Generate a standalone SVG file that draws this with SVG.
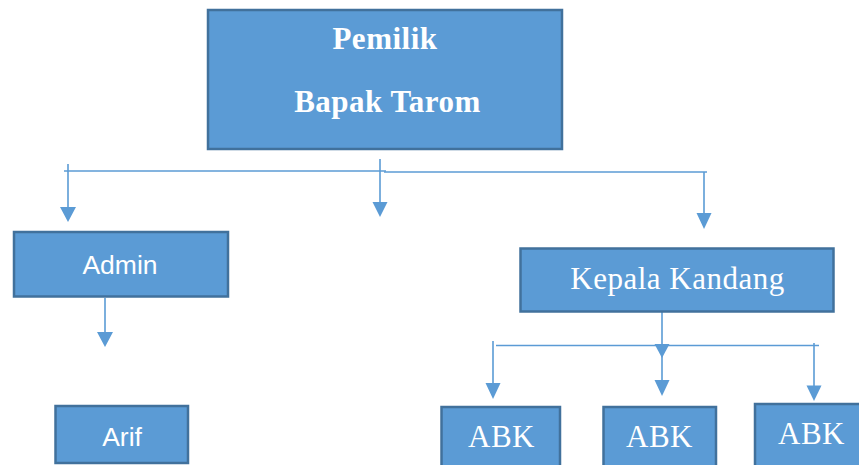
<svg xmlns="http://www.w3.org/2000/svg" width="859" height="465" viewBox="0 0 859 465">
<style>
.box{fill:#5B9BD5;stroke:#41719C;stroke-width:2.5}
.serif{font-family:"Liberation Serif","Times New Roman",serif;fill:#fff;text-anchor:middle;font-size:31px;letter-spacing:0.5px}
.sans{font-family:"Liberation Sans",Arial,sans-serif;fill:#fff;text-anchor:middle;font-size:26.5px}
.ln{stroke:#5B9BD5;fill:none;stroke-width:1.6}
.ah{fill:#5B9BD5}
</style>
<rect width="859" height="465" fill="#fff"/>
<g id="connectors">
<path class="ln" d="M64 171H386"/>
<path class="ln" d="M384 172H707"/>
<path class="ln" d="M68 164V208"/>
<polygon class="ah" points="60,207 76,207 68,222"/>
<path class="ln" d="M380 159V203" stroke-width="2"/>
<polygon class="ah" points="372.5,202 387.5,202 380,217"/>
<path class="ln" d="M704 172V214" stroke-width="2"/>
<polygon class="ah" points="696.5,213 711.5,213 704,229"/>
<path class="ln" d="M105 298V333"/>
<polygon class="ah" points="97,332 113,332 105,347"/>
<path class="ln" d="M662 312V346"/>
<polygon class="ah" points="654.5,344 669.5,344 662,358"/>
<path class="ln" d="M496 345.5H819"/>
<path class="ln" d="M662 356V381" stroke-width="2"/>
<polygon class="ah" points="654.5,380 669.5,380 662,396"/>
<path class="ln" d="M493 341V384" stroke-width="2"/>
<polygon class="ah" points="485.5,383 500.5,383 493,399"/>
<path class="ln" d="M814 343V386" stroke-width="2"/>
<polygon class="ah" points="806.5,385.5 821.5,385.5 814,401"/>
</g>
<g id="pemilik">
<rect class="box" x="208" y="10" width="354" height="139"/>
<text class="serif" x="385" y="49" font-weight="bold">Pemilik</text>
<text class="serif" x="387.5" y="112" font-weight="bold">Bapak Tarom</text>
</g>
<g id="admin">
<rect class="box" x="14" y="232" width="214" height="64.5"/>
<text class="sans" x="120" y="274">Admin</text>
</g>
<g id="arif">
<rect class="box" x="55.5" y="406" width="132.5" height="57"/>
<text class="sans" x="122" y="446">Arif</text>
</g>
<g id="kepala">
<rect class="box" x="520.5" y="248.5" width="313" height="63"/>
<text class="serif" x="677.5" y="288.5">Kepala Kandang</text>
</g>
<g id="abk1">
<rect class="box" x="441.5" y="407" width="118.5" height="70"/>
<text class="serif" x="501.5" y="447">ABK</text>
</g>
<g id="abk2">
<rect class="box" x="603.5" y="407" width="112.5" height="70"/>
<text class="serif" x="659.5" y="447">ABK</text>
</g>
<g id="abk3">
<rect class="box" x="755" y="404" width="115" height="70"/>
<text class="serif" x="811.5" y="444">ABK</text>
</g>
</svg>
